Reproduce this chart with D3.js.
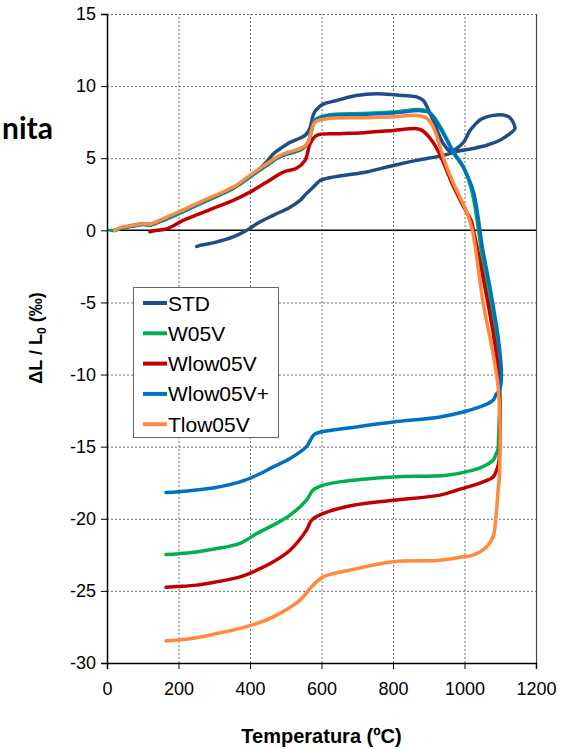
<!DOCTYPE html>
<html>
<head>
<meta charset="utf-8">
<script src="https://cdn.jsdelivr.net/npm/d3@7"></script>
<style>
  html, body { margin: 0; padding: 0; background: #fff; }
  svg { display: block; }
</style>
</head>
<body>
<svg id="chart" width="576" height="749"></svg>
<script>
// Dilatometry curves: relative length change (‰) versus temperature (ºC)
const seriesNames = ["STD", "W05V", "Wlow05V", "Wlow05V+", "Tlow05V"];
const seriesColors = ["#1F4E86", "#00B050", "#C00000", "#0070C0", "#FF8A3D"];
const xTicks = [0, 200, 400, 600, 800, 1000, 1200];
const yTicks = [-30, -25, -20, -15, -10, -5, 0, 5, 10, 15];

// [temperature, ΔL/L0] along each run (heating, transformation, cooling)
const stdCurve = [
  [20,0],[40,0.15],[74,0.35],[100,0.45],[120,0.42],[167,0.8],[200,1.15],[260,1.85],[300,2.3],
  [353,2.95],[400,3.7],[447,4.75],[465,5.3],[490,5.75],[512,6.1],[540,6.4],[555,6.6],[568,7.1],
  [577,8.0],[585,8.35],[605,8.75],[642,9.0],[698,9.35],[754,9.47],[810,9.38],[866,9.25],[885,9.0],
  [899,8.35],[913,7.6],[927,6.7],[941,6.0],[959,5.5],[972,5.6],[987,5.85],[1000,6.2],[1015,6.9],
  [1030,7.35],[1043,7.65],[1060,7.85],[1080,7.97],[1108,8.0],[1125,7.85],[1136,7.5],[1141,7.05],
  [1127,6.7],[1099,6.25],[1062,5.9],[1024,5.68],[987,5.52],[941,5.2],[866,4.85],[801,4.5],
  [726,4.05],[661,3.8],[614,3.6],[596,3.45],[577,3.0],[558,2.55],[540,2.08],[512,1.6],[465,1.04],
  [419,0.46],[391,0],[353,-0.46],[300,-0.85],[260,-1.04],[251,-1.12]
];
const w05vCurve = [
  [10,0],[22,0],[40,0.15],[74,0.3],[102,0.4],[120,0.35],[167,0.8],[200,1.15],[260,1.85],[353,2.9],
  [400,3.7],[447,4.5],[484,5.1],[540,5.55],[549,5.7],[563,6.1],[572,6.9],[582,7.65],[614,7.97],
  [707,8.1],[800,8.2],[875,8.38],[897,8.25],[913,7.9],[941,6.8],[968,5.5],[996,4.45],[1020,2.8],
  [1034,0.9],[1046,-1.2],[1064,-3.93],[1086,-7.4],[1097,-9.7],[1099,-11.3],[1097,-13.2],[1095,-14.6],
  [1094,-15.13],[1087,-15.6],[1080,-15.94],[1050,-16.4],[1024,-16.63],[950,-16.98],[801,-17.1],
  [651,-17.44],[605,-17.67],[577,-18.0],[558,-18.7],[512,-19.75],[465,-20.44],[419,-21.02],
  [372,-21.7],[300,-22.1],[250,-22.3],[200,-22.42],[165,-22.48]
];
const wlow05vCurve = [
  [120,-0.1],[140,0],[167,0.1],[213,0.69],[260,1.16],[307,1.62],[353,2.08],[400,2.65],[447,3.35],
  [493,4.04],[530,4.3],[554,4.85],[568,6.0],[586,6.58],[651,6.7],[707,6.75],[801,6.93],[866,7.05],
  [880,6.95],[900,6.5],[922,5.7],[941,4.7],[968,3.1],[996,1.7],[1018,0.7],[1025,0],[1057,-3.93],
  [1082,-7.4],[1094,-9.7],[1099,-12.0],[1099,-14.3],[1097,-15.9],[1094,-16.3],[1080,-17.1],
  [1052,-17.44],[978,-18.02],[931,-18.36],[801,-18.71],[689,-19.06],[605,-19.63],[572,-20.1],
  [558,-20.79],[512,-22.18],[465,-22.98],[419,-23.56],[372,-24.03],[300,-24.4],[250,-24.6],
  [200,-24.7],[165,-24.75]
];
const wlow05vPlusCurve = [
  [22,0],[40,0.15],[74,0.3],[102,0.42],[120,0.38],[167,0.85],[200,1.2],[260,1.9],[353,2.93],
  [400,3.75],[447,4.55],[484,5.12],[540,5.6],[549,5.72],[563,6.1],[572,6.95],[582,7.6],[614,7.92],
  [707,8.03],[800,8.13],[875,8.3],[900,8.2],[913,7.85],[941,6.7],[968,5.43],[996,4.39],[1024,2.77],
  [1038,0.9],[1050,-1.2],[1071,-3.93],[1094,-7.4],[1103,-9.7],[1101,-10.8],[1095,-11.2],
  [1089,-11.35],[1080,-11.78],[1062,-12.05],[1043,-12.24],[996,-12.6],[931,-12.94],[801,-13.29],
  [698,-13.63],[600,-13.97],[580,-14.15],[570,-14.5],[558,-15.0],[512,-15.82],[465,-16.4],
  [419,-16.98],[372,-17.44],[300,-17.85],[250,-18.0],[200,-18.12],[165,-18.18]
];
const tlow05vCurve = [
  [22,0],[40,0.2],[74,0.35],[102,0.46],[120,0.42],[167,0.92],[200,1.27],[260,1.96],[353,3.0],
  [400,3.81],[447,4.62],[484,5.2],[540,5.66],[549,5.77],[563,6.12],[572,6.93],[582,7.5],[614,7.74],
  [707,7.81],[800,7.88],[866,7.97],[889,7.85],[905,7.5],[920,6.7],[935,5.5],[950,4.4],[978,2.77],
  [1006,1.3],[1022,0],[1052,-5.0],[1080,-8.55],[1094,-10.86],[1099,-13.17],[1099,-15.9],
  [1097,-17.3],[1094,-18.02],[1088,-19.87],[1080,-21.25],[1062,-21.94],[1024,-22.52],[996,-22.64],
  [931,-22.87],[801,-22.98],[679,-23.56],[605,-24.03],[572,-24.72],[540,-25.64],[465,-26.8],
  [419,-27.26],[372,-27.6],[300,-28.0],[250,-28.25],[200,-28.4],[165,-28.45]
];
const curves = [stdCurve, w05vCurve, wlow05vCurve, wlow05vPlusCurve, tlow05vCurve];

const svg = d3.select("#chart");
const plot = { left: 107, right: 536, top: 14, bottom: 663 };
const plotW = plot.right - plot.left;
const plotH = plot.bottom - plot.top;

const x = d3.scaleLinear().domain([0, 1200]).range([plot.left, plot.right]);
const y = d3.scaleLinear().domain([-30, 15]).range([plot.bottom, plot.top]);

// Heading fragment at the left edge
svg.append("text")
  .attr("x", 53).attr("y", 139)
  .attr("text-anchor", "end")
  .attr("font-family", "Lato, 'Open Sans', sans-serif")
  .attr("font-weight", "bold")
  .attr("font-size", 30)
  .attr("fill", "#000")
  .text("nita");

// Plot background
svg.append("rect")
  .attr("x", plot.left).attr("y", plot.top)
  .attr("width", plotW).attr("height", plotH)
  .attr("fill", "#fff");

// Dotted gridlines, drawn as label-less axes spanning the plot
const gridY = svg.append("g").attr("class", "grid-y")
  .attr("transform", `translate(${plot.left},0)`)
  .call(d3.axisLeft(y).tickValues(yTicks.filter(v => v !== 0 && v !== -30))
    .tickSize(-plotW).tickFormat(""));
const gridX = svg.append("g").attr("class", "grid-x")
  .attr("transform", `translate(0,${plot.bottom})`)
  .call(d3.axisBottom(x).tickValues(xTicks.filter(v => v !== 0 && v !== 1200))
    .tickSize(-plotH).tickFormat(""));
[gridY, gridX].forEach(g => {
  g.select(".domain").remove();
  g.selectAll(".tick line")
    .attr("stroke", "#6e6e6e")
    .attr("stroke-width", 1)
    .attr("stroke-dasharray", "2,2");
});

// Right border of the plot area
svg.append("line")
  .attr("x1", plot.right + 0.5).attr("x2", plot.right + 0.5)
  .attr("y1", plot.top).attr("y2", plot.bottom)
  .attr("stroke", "#444").attr("stroke-width", 1.2);

// Zero reference line
svg.append("line")
  .attr("x1", plot.left).attr("x2", plot.right)
  .attr("y1", y(0)).attr("y2", y(0))
  .attr("stroke", "#000").attr("stroke-width", 1.5);

// Axes
const tickFont = "'Liberation Sans', Arial, sans-serif";
const xAxis = svg.append("g")
  .attr("transform", `translate(0,${plot.bottom})`)
  .call(d3.axisBottom(x).tickValues(xTicks).tickSize(6).tickPadding(13).tickFormat(d3.format("d")));
const yAxis = svg.append("g")
  .attr("transform", `translate(${plot.left},0)`)
  .call(d3.axisLeft(y).tickValues(yTicks).tickSize(6).tickPadding(5).tickFormat(d3.format("d")));
[xAxis, yAxis].forEach(ax => {
  ax.select(".domain").attr("stroke", "#000").attr("stroke-width", 1.5);
  ax.selectAll(".tick line").attr("stroke", "#000").attr("stroke-width", 1);
  ax.selectAll(".tick text").attr("font-family", tickFont).attr("font-size", 18).attr("fill", "#000");
});
yAxis.selectAll(".tick text").text(d => d < 0 ? "-" + Math.abs(d) : d);

// Axis titles
svg.append("text")
  .attr("x", (plot.left + plot.right) / 2).attr("y", 743)
  .attr("text-anchor", "middle")
  .attr("font-family", tickFont).attr("font-weight", "bold").attr("font-size", 20)
  .text("Temperatura (ºC)");

const yTitle = svg.append("text")
  .attr("transform", `translate(42,338) rotate(-90)`)
  .attr("text-anchor", "middle")
  .attr("font-family", tickFont).attr("font-weight", "bold").attr("font-size", 18);
yTitle.append("tspan").text("ΔL / L");
yTitle.append("tspan").attr("font-size", 12).attr("dy", 4).text("0");
yTitle.append("tspan").attr("dy", -4).text(" (‰)");

// Series lines
const line = d3.line().x(d => x(d[0])).y(d => y(d[1])).curve(d3.curveCatmullRom.alpha(0.5));
svg.append("g").selectAll("path").data(curves).join("path")
  .attr("d", line)
  .attr("fill", "none")
  .attr("stroke", (d, i) => seriesColors[i])
  .attr("stroke-width", 3.5)
  .attr("stroke-linejoin", "round")
  .attr("stroke-linecap", "round");

// Legend
const legend = svg.append("g");
legend.append("rect")
  .attr("x", 133.5).attr("y", 287.5).attr("width", 145).attr("height", 150)
  .attr("fill", "#fff").attr("stroke", "#666").attr("stroke-width", 1);
const items = legend.selectAll("g.item").data(seriesNames).join("g")
  .attr("class", "item")
  .attr("transform", (d, i) => `translate(0,${303 + i * 30.3})`);
items.append("line")
  .attr("x1", 143).attr("x2", 167).attr("y1", 0).attr("y2", 0)
  .attr("stroke", (d, i) => seriesColors[i]).attr("stroke-width", 4);
items.append("text")
  .attr("x", 168).attr("y", 7.5)
  .attr("font-family", tickFont).attr("font-size", 21).attr("fill", "#000")
  .text(d => d);
</script>
</body>
</html>
